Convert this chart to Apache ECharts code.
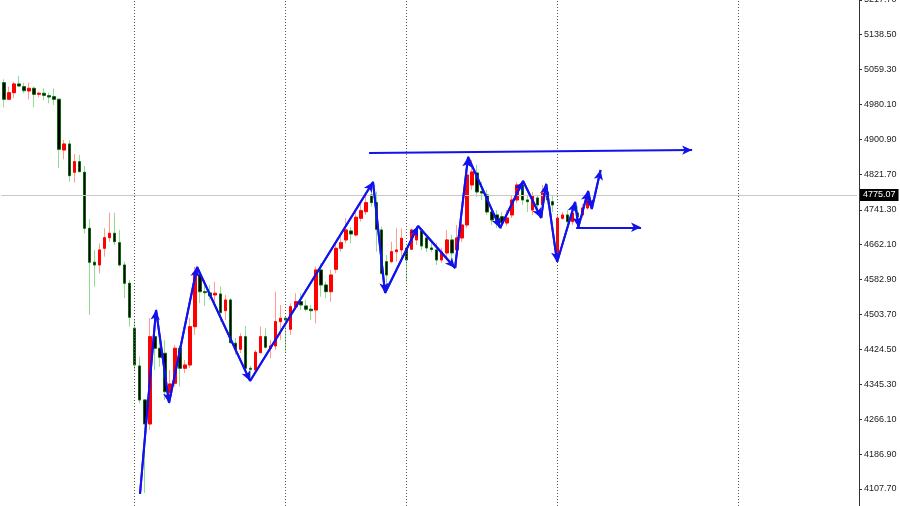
<!DOCTYPE html>
<html>
<head>
<meta charset="utf-8">
<script src="https://cdn.jsdelivr.net/npm/echarts/dist/echarts.min.js"></script>
<style>
html,body{margin:0;padding:0;background:#fff;}
#chart{width:900px;height:506px;}
</style>
</head>
<body>
<div id="chart"></div>
<script>
// ---- data ----
const SLOT_COUNT = 170; // bar slots on the time axis (candles + empty right margin)
const categories = Array.from({length: SLOT_COUNT}, (_, i) => 'B' + i);

const openP = [5029.7,4992.1,5007.0,5026.8,5020.7,5010.9,5017.0,5003.4,5005.7,5000.2,
4998.0,4992.1,4877.0,4890.6,4826.4,4850.5,4826.4,4699.3,4622.2,4616.0,
4653.9,4678.0,4688.0,4666.6,4616.0,4574.5,4472.4,4386.8,4309.7,4255.2,
4453.3,4427.0,4415.6,4326.2,4347.6,4427.0,4381.6,4389.1,4476.0,4593.3,
4555.4,4552.5,4548.0,4550.2,4512.3,4536.6,4438.4,4424.7,4453.3,4381.6,
4377.8,4417.0,4453.3,4427.0,4432.2,4487.4,4495.1,4470.1,4521.4,4532.8,
4523.0,4515.5,4513.9,4604.7,4570.6,4555.4,4606.3,4653.9,4672.8,4693.2,
4684.1,4722.0,4737.0,4774.9,4757.4,4695.5,4623.5,4623.5,4646.2,4650.1,
4653.9,4651.7,4672.8,4693.2,4677.3,4654.6,4650.1,4627.4,4643.3,4672.8,
4650.1,4677.3,4706.8,4797.6,4824.8,4782.8,4774.9,4736.3,4729.5,4725.6,
4711.3,4729.5,4763.5,4797.6,4763.5,4740.8,4768.1,4752.2,4779.4,4759.7,
4631.9,4722.0,4729.5,4714.3,4734.0,4729.5,4745.4];
const closeP = [4992.1,5007.0,5026.8,5022.2,5011.6,5017.0,5003.4,5005.7,5001.1,4997.3,
4992.1,4878.6,4890.6,4818.7,4850.5,4827.8,4699.3,4622.2,4616.0,4650.1,
4678.0,4688.0,4668.9,4616.0,4574.5,4497.4,4389.1,4309.7,4255.2,4453.3,
4427.0,4406.6,4328.5,4346.0,4427.0,4381.6,4389.1,4476.0,4593.3,4555.4,
4553.2,4545.7,4551.8,4507.8,4536.6,4439.7,4424.7,4453.3,4381.6,4379.3,
4417.9,4453.3,4429.3,4432.2,4487.4,4495.1,4491.2,4521.4,4532.8,4525.3,
4515.5,4512.3,4604.7,4570.6,4555.4,4593.3,4653.9,4666.6,4695.5,4686.4,
4724.3,4739.3,4757.4,4757.4,4697.0,4597.2,4593.3,4646.2,4650.1,4676.6,
4627.4,4695.5,4697.7,4659.2,4654.6,4651.2,4627.4,4645.5,4672.8,4643.3,
4677.3,4706.8,4820.3,4827.1,4781.7,4779.4,4736.3,4718.2,4711.3,4712.0,
4722.7,4763.5,4797.6,4763.5,4759.7,4772.6,4752.2,4779.4,4763.5,4752.2,
4722.0,4729.5,4714.3,4734.0,4725.0,4745.4,4775.07];
const lowP = [4973.9,4990.5,4995.0,5020.0,5005.7,4992.1,4973.9,4996.6,4990.5,4983.0,
4979.1,4835.5,4855.9,4805.1,4802.8,4826.0,4688.0,4502.6,4566.8,4597.2,
4634.9,4668.9,4661.4,4612.2,4540.5,4476.0,4377.8,4302.2,4098.6,4241.6,
4377.8,4385.2,4309.7,4302.9,4339.9,4339.9,4370.9,4382.3,4457.2,4529.8,
4523.0,4536.6,4529.1,4487.4,4491.2,4438.4,4411.8,4415.6,4373.9,4355.1,
4373.9,4415.6,4427.0,4404.3,4423.1,4445.8,4419.3,4457.2,4513.9,4513.9,
4510.1,4491.2,4483.7,4544.1,4540.5,4532.8,4597.2,4646.2,4665.3,4665.3,
4680.3,4714.3,4729.5,4748.3,4646.2,4593.3,4554.8,4619.9,4623.5,4631.2,
4578.1,4650.1,4661.4,4650.1,4645.5,4645.5,4616.0,4620.6,4631.9,4613.8,
4609.2,4668.2,4700.0,4786.2,4770.3,4763.5,4729.5,4706.8,4700.0,4697.7,
4704.5,4722.7,4756.7,4752.2,4736.3,4729.5,4736.3,4722.7,4752.2,4736.3,
4622.8,4718.2,4711.3,4706.8,4718.2,4722.7,4740.8];
const highP = [5037.4,5020.7,5031.3,5044.9,5029.7,5029.7,5020.7,5009.3,5017.0,5007.0,
5017.0,4993.0,4899.7,4899.7,4867.9,4865.7,4840.7,4719.7,4650.1,4665.3,
4699.3,4734.7,4734.7,4695.5,4623.5,4582.0,4491.2,4407.9,4311.0,4495.8,
4476.0,4442.0,4445.8,4377.8,4434.5,4434.5,4400.4,4495.8,4612.2,4604.7,
4582.0,4570.6,4578.1,4566.8,4548.0,4541.0,4450.4,4461.0,4477.6,4386.8,
4423.1,4476.0,4472.4,4445.8,4555.4,4525.3,4500.0,4529.1,4551.8,4551.8,
4536.6,4525.3,4612.2,4619.9,4578.1,4604.7,4668.9,4680.3,4722.0,4702.9,
4737.0,4759.7,4778.7,4797.6,4782.4,4702.9,4638.7,4668.9,4699.3,4699.3,
4657.6,4699.3,4704.5,4700.0,4684.1,4672.8,4666.0,4654.6,4695.5,4684.1,
4706.8,4713.6,4854.3,4854.3,4843.0,4804.4,4786.2,4745.4,4740.8,4736.3,
4740.8,4774.9,4804.4,4806.7,4774.9,4781.7,4774.9,4797.6,4799.8,4774.9,
4729.5,4736.3,4740.8,4745.4,4749.9,4754.5,4784.0];

const yTicks = [4107.70,4186.90,4266.10,4345.30,4424.50,4503.70,4582.90,4662.10,
4741.30,4821.70,4900.90,4980.10,5059.30,5138.50,5217.70];
const lastPrice = 4775.07;
const separatorBars = [26, 56, 80, 110, 146];

// hand-drawn wave annotation: vertices (bar position, price)
const waveX = [27.06,30.24,32.82,38.39,48.92,73.35,75.74,82.30,89.65,92.23,98.59,
103.16,106.74,107.73,109.92,113.49,114.15,116.08,116.81,118.56];
const waveY = [4096.4,4513.9,4302.9,4611.5,4352.8,4804.4,4552.5,4704.5,4609.2,4861.1,4700.0,
4806.7,4722.7,4799.9,4622.8,4759.0,4702.3,4784.0,4743.1,4831.6];
// resistance arrow and support arrow: [x1, y1, x2, y2]
const resistLine = [72.56, 4870.2, 136.74, 4877.0];
const supportLine = [113.7, 4701.6, 126.6, 4701.6];

// ---- build ----
const wickData = openP.map((o, i) => [o, closeP[i], lowP[i], highP[i]]);
const bodyData = openP.map((o, i) => [o, closeP[i], Math.min(o, closeP[i]), Math.max(o, closeP[i])]);
const waveData = waveX.map((x, i) => [x, waveY[i]]);
const arrowSegs = [];
for (let i = 1; i < waveX.length; i++) {
  arrowSegs.push([{coord: [waveX[i-1], waveY[i-1]]}, {coord: [waveX[i], waveY[i]]}]);
}
arrowSegs.push([{coord: [resistLine[0], resistLine[1]]}, {coord: [resistLine[2], resistLine[3]]}]);
arrowSegs.push([{coord: [supportLine[0], supportLine[1]]}, {coord: [supportLine[2], supportLine[3]]}]);

const FONT = 'Liberation Sans';
const BLUE = '#1212ee';

const chart = echarts.init(document.getElementById('chart'), null, {renderer: 'canvas'});
chart.setOption({
  animation: false,
  backgroundColor: '#ffffff',
  grid: {left: 1.3, right: 43, top: -2, bottom: 0, containLabel: false, outerBoundsMode: 'none'},
  xAxis: [
    {type: 'category', data: categories, boundaryGap: true, show: false},
    {type: 'value', min: -0.5, max: SLOT_COUNT - 0.5, show: false}
  ],
  yAxis: {
    type: 'value', position: 'right', offset: 2,
    min: 4069.0, max: 5221.9, scale: true,
    splitLine: {show: false},
    axisLine: {show: true, onZero: false, lineStyle: {color: '#333', width: 1}},
    axisTick: {show: true, length: 3, customValues: yTicks, lineStyle: {color: '#333'}},
    axisLabel: {
      show: true, customValues: yTicks, margin: 5,
      formatter: v => Number(v).toFixed(2),
      fontFamily: FONT, fontSize: 9, color: '#222'
    }
  },
  series: [
    {
      name: 'wicks', type: 'candlestick', data: wickData, barWidth: 3,
      xAxisIndex: 0, yAxisIndex: 0, z: 2,
      itemStyle: {
        color: 'rgba(0,0,0,0)', color0: 'rgba(0,0,0,0)',
        borderColor: '#ff9c8c', borderColor0: '#8fde8f', borderWidth: 1
      },
      markLine: {
        silent: true, symbol: 'none', animation: false,
        label: {show: false},
        lineStyle: {color: '#555', type: [1, 2], width: 1},
        data: separatorBars.map(b => ({xAxis: categories[b]}))
      }
    },
    {
      name: 'bodies', type: 'candlestick', data: bodyData, barWidth: 3,
      xAxisIndex: 0, yAxisIndex: 0, z: 3,
      itemStyle: {
        color: '#ff0000', color0: '#000000',
        borderColor: '#ff0000', borderColor0: '#0f660f', borderWidth: 1
      },
      markLine: {
        silent: true, symbol: 'none', animation: false,
        lineStyle: {color: '#c8c8c8', type: 'solid', width: 1},
        label: {
          show: true, position: 'end', distance: 3,
          formatter: lastPrice.toFixed(2),
          backgroundColor: '#000', color: '#fff',
          fontFamily: FONT, fontSize: 9, padding: [2, 3, 1, 3]
        },
        data: [{yAxis: lastPrice}]
      }
    },
    {
      name: 'wave', type: 'line', data: waveData, xAxisIndex: 1, yAxisIndex: 0,
      showSymbol: false, symbol: 'none', z: 5,
      lineStyle: {color: BLUE, width: 2},
      markLine: {
        silent: true, animation: false,
        symbol: ['none', 'arrow'], symbolSize: [7, 10],
        label: {show: false},
        lineStyle: {color: BLUE, width: 2, type: 'solid'},
        data: arrowSegs
      }
    }
  ]
});
</script>
</body>
</html>
